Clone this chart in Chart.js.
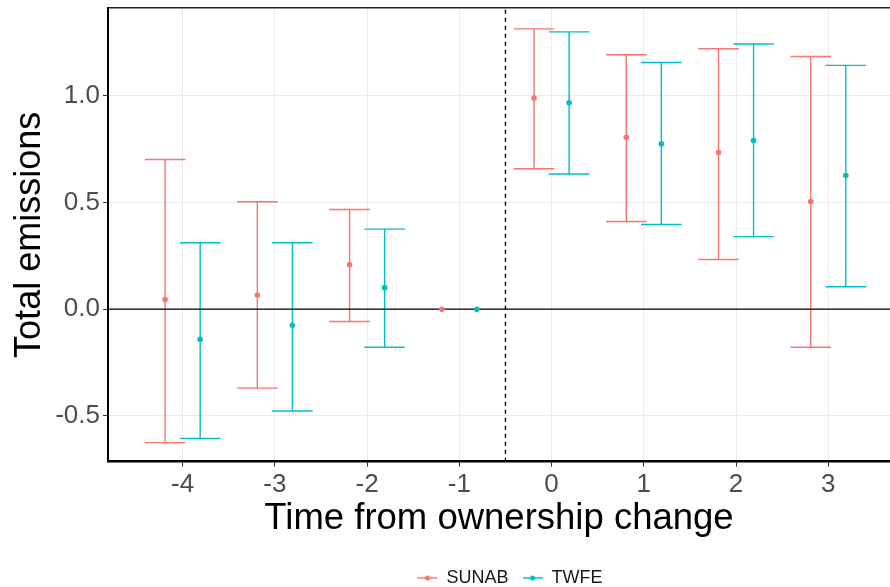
<!DOCTYPE html>
<html><head><meta charset="utf-8">
<script src="https://cdn.jsdelivr.net/npm/chart.js@4.4.0/dist/chart.umd.min.js"></script>
<style>html,body{margin:0;padding:0;background:#fff;overflow:hidden}canvas{display:block}</style>
</head><body>
<canvas id="c" width="890" height="587"></canvas>
<script>
// ---- data ----
const categories = [-4, -3, -2, -1, 0, 1, 2, 3];
const seriesNames = ['SUNAB', 'TWFE'];
const sunabEst = [0.045, 0.066, 0.208, 0, 0.989, 0.805, 0.734, 0.504];
const sunabLo  = [-0.625, -0.370, -0.058, 0, 0.658, 0.411, 0.233, -0.178];
const sunabHi  = [0.701, 0.503, 0.467, 0, 1.313, 1.192, 1.220, 1.184];
const twfeEst  = [-0.141, -0.075, 0.101, 0, 0.967, 0.775, 0.790, 0.626];
const twfeLo   = [-0.605, -0.477, -0.178, 0, 0.633, 0.397, 0.340, 0.105];
const twfeHi   = [0.311, 0.311, 0.375, 0, 1.299, 1.156, 1.242, 1.142];
const xTicks = [-4, -3, -2, -1, 0, 1, 2, 3];
const yTicks = [-0.5, 0, 0.5, 1.0];
const refVLine = -0.5;
const refHLine = 0;
const xTitle = 'Time from ownership change';
const yTitle = 'Total emissions';

// ---- style ----
const FONT = "'Liberation Sans', Arial, sans-serif";
const colors = ['#F8766D', '#00BFC4'];
const dodge = 0.19, capHalf = 0.22;
const xMin = -4.809, xMax = 3.669, yMin = -0.7145, yMax = 1.411;

function estPoints(est, shift) {
  return categories.map((c, i) => ({x: c + shift, y: est[i]}));
}
function errorbarPoints(lo, hi, shift) {
  const pts = [];
  categories.forEach((c, i) => {
    if (lo[i] === hi[i]) return;
    const x = c + shift;
    pts.push({x, y: lo[i]}, {x, y: hi[i]}, {x, y: null});
    pts.push({x: x - capHalf, y: hi[i]}, {x: x + capHalf, y: hi[i]}, {x, y: null});
    pts.push({x: x - capHalf, y: lo[i]}, {x: x + capHalf, y: lo[i]}, {x, y: null});
  });
  return pts;
}
function legendIcon(color) {
  const c = document.createElement('canvas');
  c.width = 20; c.height = 8;
  const g = c.getContext('2d');
  g.strokeStyle = color; g.lineWidth = 1.4;
  g.beginPath(); g.moveTo(0, 4); g.lineTo(20, 4); g.stroke();
  g.fillStyle = color; g.beginPath(); g.arc(10, 4, 2.6, 0, Math.PI * 2); g.fill();
  return c;
}
const icons = colors.map(legendIcon);

const lineDs = (data, color, width, dash) => ({
  data, borderColor: color, borderWidth: width, borderDash: dash || [],
  pointRadius: 0, pointHoverRadius: 0, showLine: true, spanGaps: false, fill: false, tension: 0
});

const LEGEND_TEXT_Y = 578;
const LEGEND_DX = 65;
const shiftLegend = {
  id: 'shiftLegend',
  afterLayout(chart) {
    const lg = chart.legend;
    if (!lg) return;
    const dy = (LEGEND_TEXT_Y - 14 - 9) - lg.top;
    lg.top += dy; lg.bottom += dy;
    lg.left += LEGEND_DX; lg.right += LEGEND_DX;
  }
};

new Chart(document.getElementById('c'), {
  type: 'line',
  data: {
    datasets: [
      {label: seriesNames[0], data: estPoints(sunabEst, -dodge), showLine: false,
       pointRadius: 2.8, pointBackgroundColor: colors[0], pointBorderColor: colors[0], pointBorderWidth: 0},
      {label: seriesNames[1], data: estPoints(twfeEst, dodge), showLine: false,
       pointRadius: 2.8, pointBackgroundColor: colors[1], pointBorderColor: colors[1], pointBorderWidth: 0},
      lineDs([{x: xMin, y: refHLine}, {x: xMax, y: refHLine}], '#000', 1.3),
      lineDs([{x: refVLine, y: yMin}, {x: refVLine, y: yMax}], '#000', 1.4, [4, 4]),
      lineDs(errorbarPoints(sunabLo, sunabHi, -dodge), colors[0], 1.4),
      lineDs(errorbarPoints(twfeLo, twfeHi, dodge), colors[1], 1.4)
    ]
  },
  options: {
    responsive: false, animation: false,
    layout: {autoPadding: false, padding: {top: 8, left: 0, right: 0, bottom: 0}},
    plugins: {
      tooltip: {enabled: false},
      legend: {
        position: 'bottom',
        labels: {
          usePointStyle: true, pointStyleWidth: 20, boxHeight: 8, padding: 14,
          color: '#1a1a1a', font: {family: FONT, size: 18},
          generateLabels: () => seriesNames.map((n, i) => ({
            text: n, pointStyle: icons[i], fillStyle: colors[i], strokeStyle: colors[i],
            lineWidth: 0, hidden: false, datasetIndex: i, fontColor: '#1a1a1a'
          }))
        }
      }
    },
    scales: {
      x: {
        type: 'linear', position: 'bottom', min: xMin, max: xMax,
        afterBuildTicks: s => { s.ticks = xTicks.map(v => ({value: v})); },
        afterFit: s => {
          s.height = 587 - 461.7 - (s.chart.legend ? s.chart.legend.height : 0);
          s.paddingLeft = 0; s.paddingRight = 0;
        },
        grid: {color: '#EBEBEB', lineWidth: 1, tickColor: '#333', tickLength: 5, tickWidth: 1},
        border: {color: '#000', width: 2.5},
        ticks: {autoSkip: false, maxRotation: 0, padding: 3, color: '#4D4D4D',
                font: {family: FONT, size: 26}, callback: v => String(v)},
        title: {display: true, text: xTitle, color: '#000', font: {family: FONT, size: 36.5},
                padding: {top: 0, bottom: 4}}
      },
      x2: {
        type: 'linear', position: 'top', min: xMin, max: xMax,
        afterFit: s => { s.height = 0; s.paddingLeft = 0; s.paddingRight = 0; },
        grid: {display: false, drawTicks: false},
        border: {color: '#222', width: 1.5},
        ticks: {display: false}
      },
      y: {
        type: 'linear', position: 'left', min: yMin, max: yMax,
        afterBuildTicks: s => { s.ticks = yTicks.map(v => ({value: v})); },
        afterFit: s => { s.width = 108; s.paddingTop = 0; s.paddingBottom = 0; },
        grid: {color: '#EBEBEB', lineWidth: 1, tickColor: '#333', tickLength: 5, tickWidth: 1},
        border: {color: '#000', width: 2},
        ticks: {padding: 3, color: '#4D4D4D', font: {family: FONT, size: 26},
                callback: v => v.toFixed(1)},
        title: {display: true, text: yTitle, color: '#000', font: {family: FONT, size: 36},
                padding: {top: 8, bottom: 0}}
      }
    }
  },
  plugins: [shiftLegend]
});
</script>
</body></html>
